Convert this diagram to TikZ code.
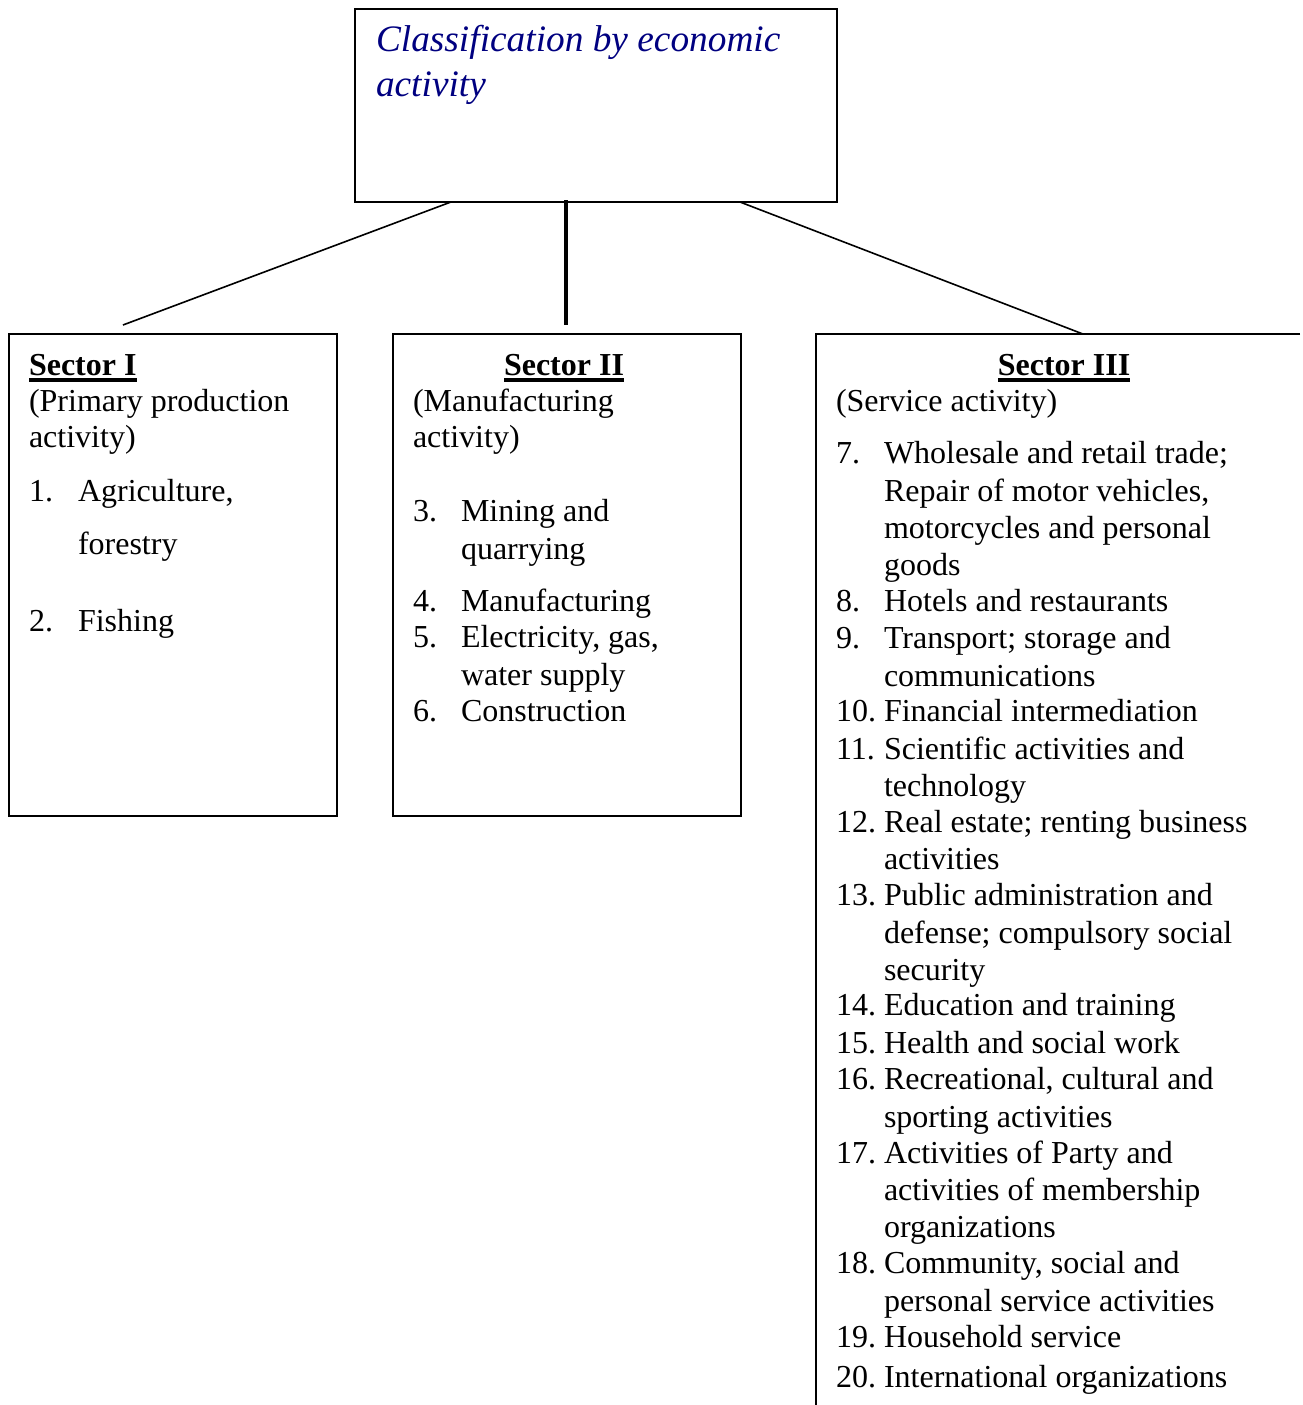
\documentclass[tikz,border=0pt]{standalone}
\usepackage{fontspec}
\setmainfont{Liberation Serif}
\usetikzlibrary{fit}
\definecolor{titleblue}{RGB}{0,0,128}
\begin{document}
\begin{tikzpicture}[x=0.375pt,y=-0.375pt,
  every node/.style={inner sep=0pt, outer sep=0pt},
  txt/.style={anchor=base west, font=\fontsize{12}{14}\selectfont},
  hdl/.style={anchor=base west, font=\fontsize{12}{14}\selectfont\bfseries},
  hdc/.style={anchor=base, font=\fontsize{12}{14}\selectfont\bfseries},
  ttl/.style={anchor=base west, font=\fontsize{14}{16}\selectfont\itshape, text=titleblue},
  frame/.style={draw, line width=0.6pt},
  link/.style={line width=0.6pt},
  stem/.style={line width=1.4pt},
  uline/.style={line width=1.3pt}]
\useasboundingbox (0,0) rectangle (1303,1405);

% boxes
\node[frame, fit={(355,9) (837,202)}] (top) {};
\node[frame, fit={(9,334) (337,816)}] (s1) {};
\node[frame, fit={(393,334) (741,816)}] (s2) {};
\node[fit={(816,334) (1300,1405)}] (s3) {};
\draw[link] (s3.north east) -- (s3.north west) -- (s3.south west);

% title
\node[ttl] (t1) at (376,51) {Classification by economic};
\node[ttl] (t2) at (376,96) {activity};

% connectors
\coordinate (e1) at (123,325);
\coordinate (e2) at (566,325);
\draw[link] ([xshift=-54.4pt]top.south) -- (e1);
\draw[stem] ([xshift=-11.25pt,yshift=0.75pt]top.south) -- (e2);
\draw[link] ([xshift=54pt]top.south) -- ([xshift=100.1pt]s3.north west);

% Sector I
\node[hdl] (h1) at (29,375) {Sector I};
\draw[uline] ([yshift=-1.9pt]h1.base west) -- ([yshift=-1.9pt]h1.base east);
\node[txt] (a1) at (29,411) {(Primary production};
\node[txt] (a2) at (29,447) {activity)};
\node[txt] (n1) at (29,501) {1.};
\node[txt] (a3) at (78,501) {Agriculture,};
\node[txt] (a4) at (78,554) {forestry};
\node[txt] (n2) at (29,631) {2.};
\node[txt] (a5) at (78,631) {Fishing};

% Sector II
\node[hdc] (h2) at (564,375) {Sector II};
\draw[uline] ([yshift=-1.9pt]h2.base west) -- ([yshift=-1.9pt]h2.base east);
\node[txt] (b1) at (413,411) {(Manufacturing};
\node[txt] (b2) at (413,447) {activity)};
\node[txt] (n3) at (413,521) {3.};
\node[txt] (b3) at (461,521) {Mining and};
\node[txt] (b4) at (461,559) {quarrying};
\node[txt] (n4) at (413,611) {4.};
\node[txt] (b5) at (461,611) {Manufacturing};
\node[txt] (n5) at (413,647) {5.};
\node[txt] (b6) at (461,647) {Electricity, gas,};
\node[txt] (b7) at (461,685) {water supply};
\node[txt] (n6) at (413,721) {6.};
\node[txt] (b8) at (461,721) {Construction};

% Sector III
\node[hdc] (h3) at (1064,375) {Sector III};
\draw[uline] ([yshift=-1.9pt]h3.base west) -- ([yshift=-1.9pt]h3.base east);
\node[txt] (c0) at (836,411) {(Service activity)};
\node[txt] (n7) at (836,463) {7.};
\node[txt] (c1) at (884,463) {Wholesale and retail trade;};
\node[txt] (c2) at (884,501) {Repair of motor vehicles,};
\node[txt] (c3) at (884,538) {motorcycles and personal};
\node[txt] (c4) at (884,575) {goods};
\node[txt] (n8) at (836,611) {8.};
\node[txt] (c5) at (884,611) {Hotels and restaurants};
\node[txt] (n9) at (836,648) {9.};
\node[txt] (c6) at (884,648) {Transport; storage and};
\node[txt] (c7) at (884,686) {communications};
\node[txt] (n10) at (836,721) {10.};
\node[txt] (c8) at (884,721) {Financial intermediation};
\node[txt] (n11) at (836,759) {11.};
\node[txt] (c9) at (884,759) {Scientific activities and};
\node[txt] (c10) at (884,796) {technology};
\node[txt] (n12) at (836,832) {12.};
\node[txt] (c11) at (884,832) {Real estate; renting business};
\node[txt] (c12) at (884,869) {activities};
\node[txt] (n13) at (836,905) {13.};
\node[txt] (c13) at (884,905) {Public administration and};
\node[txt] (c14) at (884,943) {defense; compulsory social};
\node[txt] (c15) at (884,980) {security};
\node[txt] (n14) at (836,1015) {14.};
\node[txt] (c16) at (884,1015) {Education and training};
\node[txt] (n15) at (836,1053) {15.};
\node[txt] (c17) at (884,1053) {Health and social work};
\node[txt] (n16) at (836,1089) {16.};
\node[txt] (c18) at (884,1089) {Recreational, cultural and};
\node[txt] (c19) at (884,1127) {sporting activities};
\node[txt] (n17) at (836,1163) {17.};
\node[txt] (c20) at (884,1163) {Activities of Party and};
\node[txt] (c21) at (884,1200) {activities of membership};
\node[txt] (c22) at (884,1237) {organizations};
\node[txt] (n18) at (836,1273) {18.};
\node[txt] (c23) at (884,1273) {Community, social and};
\node[txt] (c24) at (884,1311) {personal service activities};
\node[txt] (n19) at (836,1347) {19.};
\node[txt] (c25) at (884,1347) {Household service};
\node[txt] (n20) at (836,1387) {20.};
\node[txt] (c26) at (884,1387) {International organizations};
\end{tikzpicture}
\end{document}
